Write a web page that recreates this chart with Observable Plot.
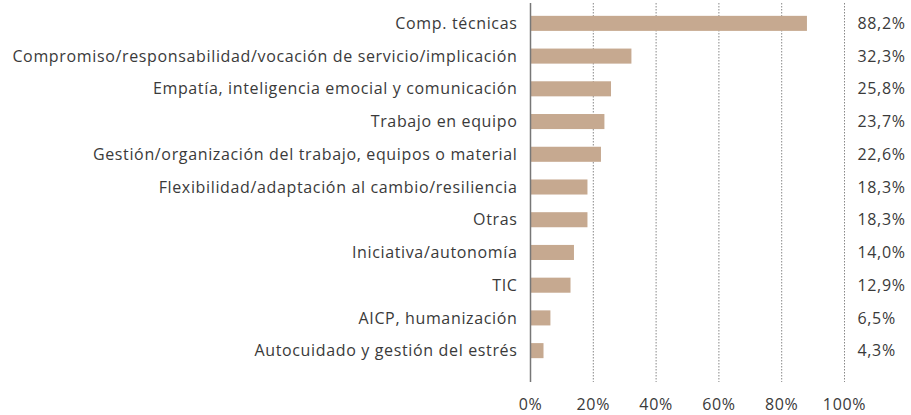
<!DOCTYPE html>
<html>
<head>
<meta charset="utf-8">
<script src="https://cdn.jsdelivr.net/npm/d3@7"></script>
<script src="https://cdn.jsdelivr.net/npm/@observablehq/plot@0.6"></script>
<style>
  html, body { margin: 0; padding: 0; background: #fff; }
  #chart svg { display: block; }
  #chart svg text { letter-spacing: 0.65px; }
</style>
</head>
<body>
<div id="chart"></div>
<script>
const categories = [
  "Comp. técnicas",
  "Compromiso/responsabilidad/vocación de servicio/implicación",
  "Empatía, inteligencia emocial y comunicación",
  "Trabajo en equipo",
  "Gestión/organización del trabajo, equipos o material",
  "Flexibilidad/adaptación al cambio/resiliencia",
  "Otras",
  "Iniciativa/autonomía",
  "TIC",
  "AICP, humanización",
  "Autocuidado y gestión del estrés"
];
const values = [88.2, 32.3, 25.8, 23.7, 22.6, 18.3, 18.3, 14.0, 12.9, 6.5, 4.3];
const xTicks = [0, 20, 40, 60, 80, 100];
const gridTicks = [20, 40, 60, 80, 100];

const data = categories.map((c, i) => ({category: c, value: values[i]}));
const fmt = v => v.toFixed(1).replace(".", ",") + "%";

const chart = Plot.plot({
  width: 911,
  height: 415,
  marginLeft: 530,
  marginRight: 67,
  marginTop: 7,
  marginBottom: 48,
  style: {fontFamily: "'Open Sans', sans-serif", fontSize: "16px", color: "#3a3a3a", background: "#fff"},
  x: {domain: [0, 100]},
  y: {domain: categories, paddingInner: 0.54, paddingOuter: 0.27, round: false},
  marks: [
    Plot.ruleX(gridTicks, {stroke: "#888", strokeWidth: 1, strokeDasharray: "1.5,1.5", insetTop: -4, insetBottom: -15}),
    Plot.barX(data, {x: "value", y: "category", fill: "#C6A990"}),
    Plot.ruleX([0], {stroke: "#777", strokeWidth: 1.5, insetTop: -4, insetBottom: -15}),
    Plot.text(data, {y: "category", text: d => fmt(d.value), frameAnchor: "right", textAnchor: "start", dx: 13, fill: "#3a3a3a", fontSize: 16}),
    Plot.axisY({tickSize: 0, tickPadding: 13, label: null, fontSize: 16, fill: "#3a3a3a"}),
    Plot.axisX({ticks: xTicks, tickSize: 0, tickPadding: 31, tickFormat: d => d + "%", label: null, fontSize: 16, fill: "#3a3a3a"})
  ]
});
document.getElementById("chart").appendChild(chart);
</script>
</body>
</html>
